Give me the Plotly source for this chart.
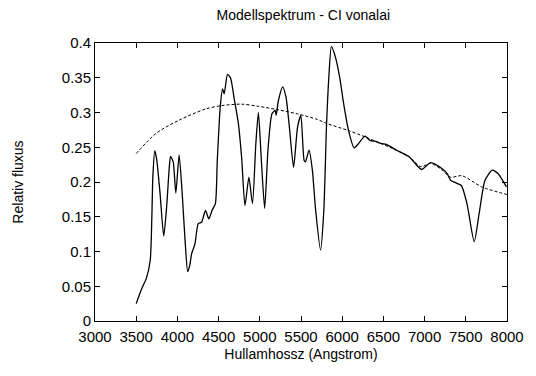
import plotly.graph_objects as go

# Observed spectrum (wavelength in Angstrom, relative flux)
wave_obs = [3500, 3542, 3580, 3622, 3670, 3690, 3702, 3726, 3750, 3790, 3834, 3869,
            3902, 3917, 3949, 3981, 4021, 4061, 4093, 4125, 4150, 4173, 4213, 4253,
            4293, 4341, 4381, 4420, 4461, 4484, 4520, 4548, 4568, 4608, 4644, 4692,
            4740, 4779, 4820, 4868, 4911, 4952, 4983, 5019, 5059, 5099, 5147, 5187,
            5198, 5227, 5278, 5318, 5359, 5410, 5458, 5498, 5538, 5554, 5598, 5638,
            5678, 5737, 5777, 5809, 5838, 5869, 5917, 5969, 6017, 6077, 6145, 6197,
            6276, 6336, 6416, 6456, 6536, 6655, 6815, 6963, 7074, 7214, 7274, 7314,
            7374, 7446, 7514, 7602, 7661, 7733, 7821, 7893, 7993]
flux_obs = [0.025, 0.039, 0.050, 0.061, 0.087, 0.150, 0.207, 0.245, 0.231, 0.183, 0.122, 0.164,
            0.222, 0.237, 0.229, 0.184, 0.239, 0.178, 0.116, 0.071, 0.080, 0.097, 0.111, 0.140,
            0.142, 0.159, 0.147, 0.159, 0.169, 0.231, 0.308, 0.334, 0.327, 0.355, 0.350, 0.318,
            0.284, 0.236, 0.166, 0.207, 0.169, 0.255, 0.300, 0.231, 0.162, 0.246, 0.298, 0.303,
            0.296, 0.318, 0.337, 0.322, 0.279, 0.221, 0.279, 0.296, 0.231, 0.229, 0.246, 0.217,
            0.159, 0.102, 0.159, 0.279, 0.351, 0.395, 0.380, 0.351, 0.313, 0.274, 0.249, 0.255,
            0.266, 0.260, 0.258, 0.256, 0.254, 0.246, 0.236, 0.218, 0.228, 0.219, 0.212, 0.2025,
            0.199, 0.195, 0.169, 0.114, 0.154, 0.2025, 0.217, 0.212, 0.193]

# Model continuum
wave_mod = [3500, 3742, 4021, 4341, 4540, 4779, 4979, 5219, 5458, 5698, 5817, 6077,
            6276, 6456, 6655, 6815, 6955, 7074, 7214, 7314, 7454, 7693, 8000]
flux_mod = [0.241, 0.270, 0.289, 0.305, 0.310, 0.312, 0.309, 0.304, 0.298, 0.290, 0.284, 0.274,
            0.265, 0.256, 0.246, 0.236, 0.222, 0.227, 0.217, 0.207, 0.209, 0.193, 0.182]

x_ticks = [3000, 3500, 4000, 4500, 5000, 5500, 6000, 6500, 7000, 7500, 8000]
y_ticks = [0, 0.05, 0.1, 0.15, 0.2, 0.25, 0.3, 0.35, 0.4]
y_labels = ["0", "0.05", "0.1", "0.15", "0.2", "0.25", "0.3", "0.35", "0.4"]

FONT = "Liberation Sans, Arial, sans-serif"

fig = go.Figure()
fig.add_trace(go.Scatter(x=wave_obs, y=flux_obs, mode="lines",
                         line=dict(color="black", width=1.3, shape="spline", smoothing=0.6),
                         showlegend=False))
fig.add_trace(go.Scatter(x=wave_mod, y=flux_mod, mode="lines",
                         line=dict(color="black", width=1, dash="3px,2px", shape="spline", smoothing=0.8),
                         showlegend=False))

axis_common = dict(showline=True, linecolor="black", linewidth=1, mirror="allticks",
                   ticks="inside", ticklen=5, tickcolor="black", showgrid=False,
                   zeroline=False, tickfont=dict(family=FONT, size=15, color="black"))

fig.update_layout(
    width=536, height=376,
    margin=dict(l=95, r=24, t=43, b=55),
    paper_bgcolor="white", plot_bgcolor="white",
    title=dict(text="Modellspektrum - CI vonalai", x=0.566, xanchor="center", y=0.96, yanchor="middle",
               font=dict(family=FONT, size=14, color="black")),
    xaxis=dict(range=[3000, 8000], tickvals=x_ticks, ticktext=[str(v) for v in x_ticks],
               ticklabelstandoff=2,
               title=dict(text="Hullamhossz (Angstrom)", standoff=5,
                          font=dict(family=FONT, size=14, color="black")),
               **axis_common),
    yaxis=dict(range=[0, 0.4], tickvals=y_ticks, ticktext=y_labels,
               title=dict(text="Relativ fluxus", standoff=34,
                          font=dict(family=FONT, size=14, color="black")),
               **axis_common),
)

fig.write_html("out.html")
